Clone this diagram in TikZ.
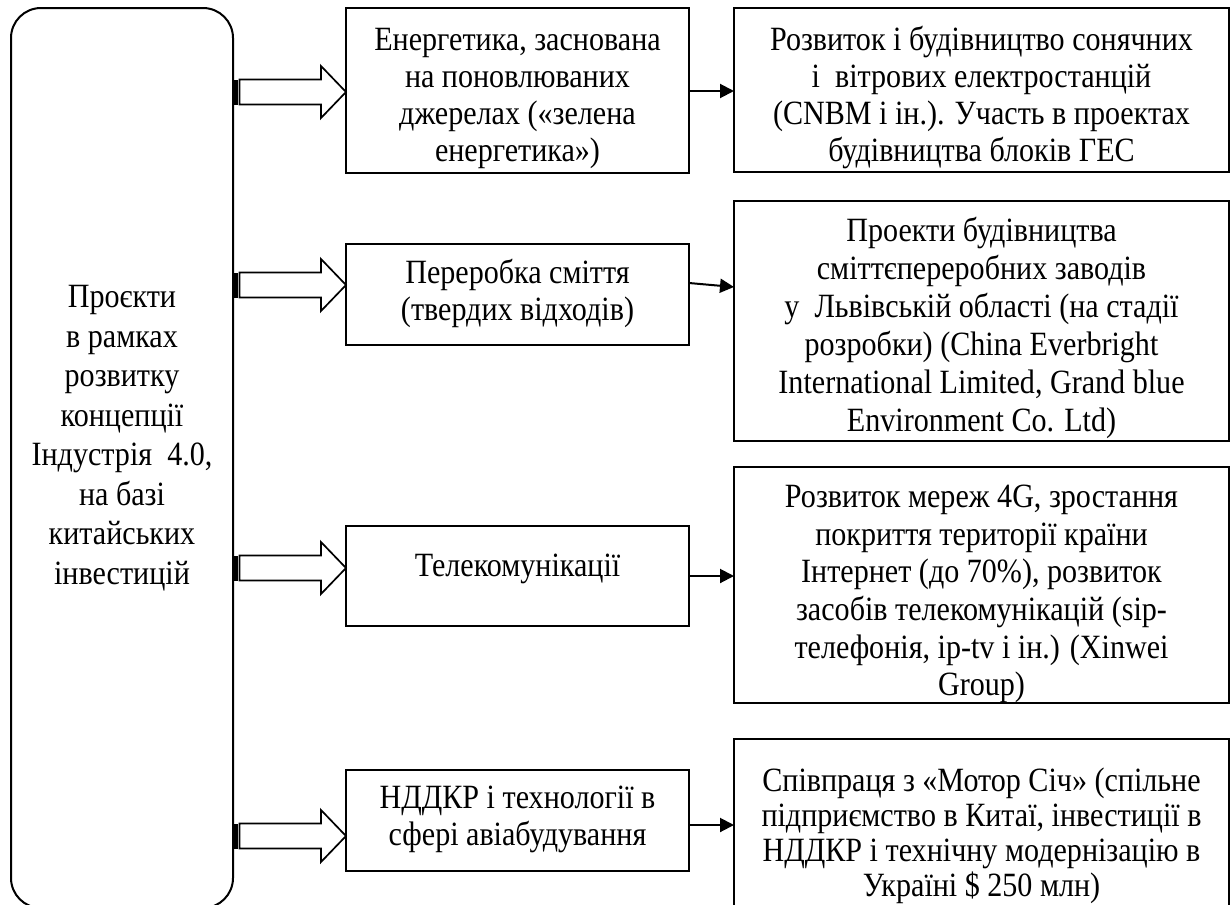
\documentclass[tikz,border=0pt]{standalone}
\usepackage{fontspec}
\setmainfont{Liberation Serif}[FakeStretch=0.885]
\usetikzlibrary{calc,arrows.meta}

% striped block arrow from the east side of #1 to the west side of #2 at height #3
\newcommand{\stripedarrow}[3]{%
  \path (#1.east |- 0,#3) coordinate (sa-tail) (#2.west |- 0,#3) coordinate (sa-tip);
  \fill ($(sa-tail)+(0.5,-12.5)$) rectangle ($(sa-tail)+(4.5,12.5)$);
  \draw[blockarrow] ($(sa-tail)+(6.5,-12.5)$) -- ($(sa-tip)+(-25,-12.5)$)
    -- ($(sa-tip)+(-25,-26)$) -- (sa-tip) -- ($(sa-tip)+(-25,26)$)
    -- ($(sa-tip)+(-25,12.5)$) -- ($(sa-tail)+(6.5,12.5)$) -- cycle;
}

\tikzset{
  box/.style={draw, line width=2.3pt, outer sep=0pt, inner sep=0pt},
  midbox/.style={box, minimum width=343pt},
  rightbox/.style={box, minimum width=495pt},
  txt/.style={align=center, inner sep=0pt, font=\fontsize{34}{37}\selectfont},
  blockarrow/.style={draw, line width=1.7pt, fill=white, line join=miter},
  conn/.style={draw, line width=2pt, -{Triangle[length=14pt,width=14pt]}},
}

\begin{document}
\begin{tikzpicture}[x=1pt, y=-1pt]
\useasboundingbox (0,0) rectangle (1232,905);
\clip (0,0) rectangle (1232,905);
\fill[white] (0,0) rectangle (1232,905);

% main block on the left
\node[box, line width=2pt, rounded corners=30pt, minimum width=222pt, minimum height=900pt] (L) at (122,458) {};
\node[txt, font=\fontsize{34}{39.5}\selectfont] (tL) at (122,438)
  {Проєкти\\в рамках\\розвитку\\концепції\\Індустрія\ \ 4.0,\\на базі\\китайських\\інвестицій};

% directions
\node[midbox, minimum height=165pt] (m1) at (517.5,90.5) {};
\node[txt] (tm1) at (517.5,98) {Енергетика, заснована\\на поновлюваних\\джерелах («зелена\\енергетика»)};
\node[midbox, minimum height=101pt] (m2) at (517.5,294.5) {};
\node[txt] (tm2) at (517.5,293.5) {Переробка сміття\\(твердих відходів)};
\node[midbox, minimum height=100pt] (m3) at (517.5,576) {};
\node[txt] (tm3) at (517.5,569) {Телекомунікації};
\node[midbox, minimum height=101pt] (m4) at (517.5,820.5) {};
\node[txt] (tm4) at (517.5,819) {НДДКР і технології в\\сфері авіабудування};

% projects
\node[rightbox, minimum height=164pt] (r1) at (981.5,90) {};
\node[txt] (tr1) at (981.5,97) {Розвиток і будівництво сонячних\\і\ \ вітрових електростанцій\\(CNBM і ін.). Участь в проектах\\будівництва блоків ГЕС};
\node[rightbox, minimum height=240pt] (r2) at (981.5,321) {};
\node[txt, font=\fontsize{34}{38}\selectfont] (tr2) at (981.5,327.5) {Проекти будівництва\\сміттєпереробних заводів\\у\ \ Львівській області (на стадії\\розробки) (China Everbright\\International Limited, Grand blue\\Environment Co. Ltd)};
\node[rightbox, minimum height=236pt] (r3) at (981.5,585) {};
\node[txt, font=\fontsize{34}{37.6}\selectfont] (tr3) at (981.5,594) {Розвиток мереж 4G, зростання\\покриття території країни\\Інтернет (до 70\%), розвиток\\засобів телекомунікацій (sip-\\телефонія, ip-tv і ін.) (Xinwei\\Group)};
\node[rightbox, minimum height=173pt] (r4) at (981.5,825.5) {};
\node[txt, font=\fontsize{34}{35}\selectfont] (tr4) at (981.5,836) {Співпраця з «Мотор Січ» (спільне\\підприємство в Китаї, інвестиції в\\НДДКР і технічну модернізацію в\\Україні \$ 250 млн)};

% block arrows from the main block
\stripedarrow{L}{m1}{92}
\stripedarrow{L}{m2}{285}
\stripedarrow{L}{m3}{568}
\stripedarrow{L}{m4}{836}

% connectors to the projects
\draw[conn] (m1.east |- 0,91) -- (r1.west |- 0,91);
\draw[conn] (m2.east |- 0,283) -- (r2.west |- 0,287);
\draw[conn] (m3.east) -- (m3.east -| r3.west);
\draw[conn] (m4.east |- 0,825) -- (r4.west |- 0,825);
\end{tikzpicture}
\end{document}
